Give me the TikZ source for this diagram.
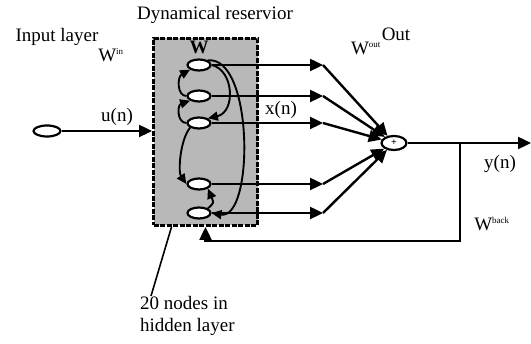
\documentclass[tikz,border=0pt]{standalone}
\usepackage{fontspec}
\setmainfont{Liberation Serif}
\usetikzlibrary{arrows.meta,positioning,calc,shapes.geometric}
\newcommand{\supsize}{\fontsize{9}{10}\selectfont}

\begin{document}
\begin{tikzpicture}[x=1pt, y=-1pt, every node/.style={font=\fontsize{19}{22}\selectfont}]
    \tikzstyle{wire}=[line width=2.4pt,black]
    \tikzstyle{arr}=[wire,-{Triangle[length=13pt,width=12pt]}]
    \tikzstyle{unit}=[ellipse,draw,fill=white,line width=2.2pt,minimum width=23pt,minimum height=11pt,inner sep=0pt]
    \tikzstyle{inner}=[line width=1.9pt,-{Triangle[length=10pt,width=9pt]}]
    \useasboundingbox (0,0) rectangle (531,344);
    \node[draw,fill=black!28,line width=3pt,dash pattern=on 5pt off 1.5pt,minimum width=104pt,minimum height=187pt,inner sep=0pt] (reservoir) at (205.5,132) {};
    \node (restitle) at (215,15) {Dynamical reservior};
    \node (inlabel) at (57,37) {Input layer};
    \node (win) at (111,55) {W\textsuperscript{\supsize in}};
    \node[unit,minimum width=27pt] (input) at (47,131) {};
    \node (un) at (117,117) {u(n)};
    \node[font=\fontsize{19}{22}\selectfont\bfseries] (w) at (199,47) {W};
    \node[unit] (r1) at (199,65) {};
    \node[unit] (r2) at (199,96) {};
    \node[unit] (r3) at (199,123) {};
    \node[unit] (r4) at (199,184) {};
    \node[unit] (r5) at (199,213) {};
    \node (xn) at (281,110) {x(n)};
    \node[ellipse,draw,line width=2.2pt,minimum width=25pt,minimum height=14pt,inner sep=0pt,font=\bfseries\normalsize] (sum) at (394,143) {+};
    \node (wout) at (366,48) {W\textsuperscript{\supsize out}};
    \node (outlabel) at (396,34) {Out};
    \node (yn) at (500,164) {y(n)};
    \node (wback) at (492,224) {W\textsuperscript{\supsize back}};
    \node[align=left,anchor=north west,inner sep=0pt] (note) at (140,296) {20 nodes in\\hidden layer};
    \coordinate (o1) at (323,65);
    \coordinate (o2) at (323,96);
    \coordinate (o3) at (323,123);
    \coordinate (o4) at (323,184);
    \coordinate (o5) at (323,213);
    \coordinate (tap) at (460,143);
    \coordinate (yout) at (531,143);
    % input
    \draw[arr] (input) -- (reservoir.west |- input);
    % readout
    \foreach \i in {1,...,5}{
        \draw[arr] (r\i.east) -- (o\i);
        \draw[arr] (o\i) -- (sum);
    }
    \draw[arr] (sum) -- (yout);
    % feedback
    \draw[arr] (tap) |- ([yshift=-14pt]reservoir.south) -- (reservoir.south);
    % recurrent links
    \draw[inner] (r2.west) .. controls (177,96) and (177,77) .. (r1.south west);
    \draw[inner] (r3.west) .. controls (177,123) and (177,105) .. (r2.south west);
    \draw[inner] (r1.east) .. controls (234,70) and (236,112) .. (r3.north east);
    \draw[inner] (r1.north east) .. controls (254,56) and (254,220) .. (r5.east);
    \draw[inner] (r3.south west) .. controls (180,140) and (178,172) .. (r4.west);
    \draw[inner] (r5.north east) .. controls (214,203) .. (r4.south east);
    % label pointer
    \draw[wire,line width=1.6pt] ([xshift=11pt]note.north west) -- ([xshift=19.5pt]reservoir.south west);
\end{tikzpicture}
\end{document}
